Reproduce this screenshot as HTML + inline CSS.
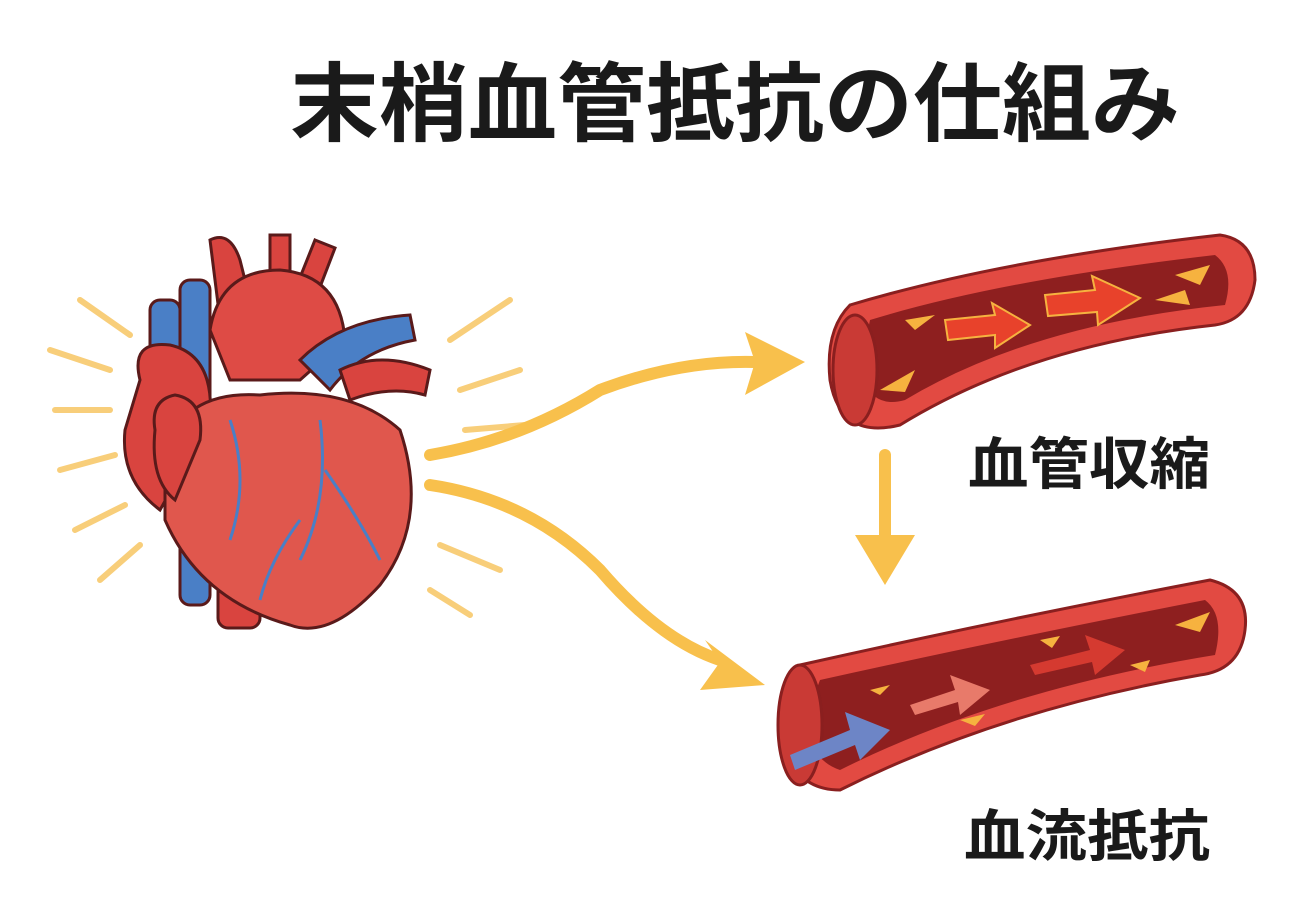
<!DOCTYPE html>
<html><head><meta charset="utf-8"><style>
html,body{margin:0;padding:0;background:#fff;width:1299px;height:904px;overflow:hidden}
svg{display:block}
text{font-family:"Liberation Sans","Noto Sans CJK JP",sans-serif;font-weight:bold;fill:#1a1a1a}
</style></head><body>
<svg width="1299" height="904" viewBox="0 0 1299 904">
<text x="290" y="134" font-size="86" textLength="890" lengthAdjust="spacingAndGlyphs">末梢血管抵抗の仕組み</text>
<text x="968" y="484" font-size="56" textLength="242" lengthAdjust="spacingAndGlyphs">血管収縮</text>
<text x="964" y="856" font-size="56" textLength="246" lengthAdjust="spacingAndGlyphs">血流抵抗</text>

<g stroke="#f7c25a" stroke-width="6" stroke-linecap="round" opacity="0.8">
<line x1="50" y1="350" x2="110" y2="370"/><line x1="80" y1="300" x2="130" y2="335"/>
<line x1="55" y1="410" x2="110" y2="410"/><line x1="60" y1="470" x2="115" y2="455"/>
<line x1="75" y1="530" x2="125" y2="505"/><line x1="100" y1="580" x2="140" y2="545"/>
<line x1="450" y1="340" x2="510" y2="300"/><line x1="460" y1="390" x2="520" y2="370"/>
<line x1="465" y1="430" x2="525" y2="425"/><line x1="440" y1="545" x2="500" y2="570"/>
<line x1="430" y1="590" x2="470" y2="615"/>
</g>

<g stroke="#5a1a1a" stroke-width="3">
<rect x="180" y="280" width="30" height="325" rx="10" fill="#4a7fc6"/>
<rect x="150" y="300" width="30" height="60" rx="10" fill="#4a7fc6"/>
<path d="M210 240 Q230 230 240 260 L250 300 L220 320 Z" fill="#d9443f"/>
<path d="M270 235 L290 235 L290 290 L270 290Z" fill="#d9443f"/>
<path d="M315 240 L335 248 L315 300 L295 290Z" fill="#d9443f"/>
<path d="M210 330 Q220 270 280 270 Q340 275 345 340 L300 380 L230 380Z" fill="#de4b45"/>
<path d="M300 360 Q340 320 410 315 L415 340 Q360 350 330 390Z" fill="#4a7fc6"/>
<path d="M340 370 Q380 350 430 370 L425 395 Q390 385 350 400Z" fill="#d9443f"/>
<path d="M140 380 Q130 340 170 345 Q215 355 210 420 L160 510 Q120 480 125 430Z" fill="#d9443f"/>
<rect x="218" y="560" width="42" height="68" rx="10" fill="#d9443f"/>
<path d="M165 450 Q185 390 260 395 Q350 385 400 430 Q430 520 380 585 Q330 640 290 625 Q200 600 165 520Z" fill="#e0574d"/>
<path d="M155 430 Q150 400 175 395 Q205 400 200 440 L175 500 Q150 480 155 430Z" fill="#d9443f"/>
</g>
<g stroke="#4a7fc6" stroke-width="3" fill="none">
<path d="M320 420 Q330 500 300 560 M325 470 Q360 520 380 560 M300 520 Q270 560 260 600 M230 420 Q250 480 230 540"/>
</g>

<g fill="none" stroke="#f8c04c" stroke-width="12" stroke-linecap="round">
<path d="M430 455 Q520 440 600 390 Q680 360 755 362"/>
<path d="M430 485 Q530 500 600 570 Q660 640 720 660"/>
<line x1="885" y1="455" x2="885" y2="545"/>
</g>
<g fill="#f8c04c">
<polygon points="805,362 745,332 755,362 745,395"/>
<polygon points="765,685 705,640 720,662 700,690"/>
<polygon points="885,585 855,535 915,535"/>
</g>

<path d="M850 305 Q1000 260 1220 235 Q1255 240 1255 280 Q1250 320 1215 325 Q1030 345 900 425 Q840 440 830 380 Q825 330 850 305Z" fill="#e24a42" stroke="#8a1f1f" stroke-width="3"/>
<path d="M870 320 Q1000 280 1215 255 Q1235 270 1225 305 Q1030 325 905 400 Q870 410 860 370Z" fill="#8e1f1f"/>
<ellipse cx="855" cy="370" rx="22" ry="55" fill="#c93a35" stroke="#8a1f1f" stroke-width="3"/>
<g fill="#e8422b" stroke="#f6b23f" stroke-width="2">
<polygon points="945,320 995,315 992,303 1030,325 995,348 995,335 948,340"/>
<polygon points="1045,295 1095,290 1092,276 1140,298 1098,325 1097,312 1048,316"/>
</g>
<g fill="#f6b23f"><polygon points="880,390 915,370 905,392"/><polygon points="1175,275 1210,265 1200,285"/><polygon points="1155,300 1185,290 1190,305"/><polygon points="905,320 935,315 915,330"/></g>

<path d="M800 665 Q1000 620 1210 580 Q1250 590 1245 630 Q1240 670 1200 675 Q1000 710 840 790 Q790 790 780 730 Q780 680 800 665Z" fill="#e24a42" stroke="#8a1f1f" stroke-width="3"/>
<path d="M820 680 Q1000 640 1205 600 Q1225 615 1215 655 Q1000 690 840 770 Q810 760 805 720Z" fill="#8e1f1f"/>
<ellipse cx="800" cy="725" rx="22" ry="60" fill="#c93a35" stroke="#8a1f1f" stroke-width="3"/>
<g>
<polygon points="790,755 850,730 845,712 890,730 860,760 855,745 795,770" fill="#6d85c6"/>
<polygon points="910,705 955,690 950,675 990,690 960,715 958,702 915,715" fill="#e87a6a"/>
<polygon points="1030,665 1090,650 1085,635 1125,650 1095,675 1092,662 1035,675" fill="#d53a30"/>
</g>
<g fill="#f6b23f"><polygon points="1175,625 1210,612 1200,632"/><polygon points="870,690 890,685 880,695"/><polygon points="1130,665 1150,660 1145,672"/><polygon points="1040,640 1060,636 1052,648"/><polygon points="960,720 985,714 975,726"/></g>
</svg>
</body></html>
